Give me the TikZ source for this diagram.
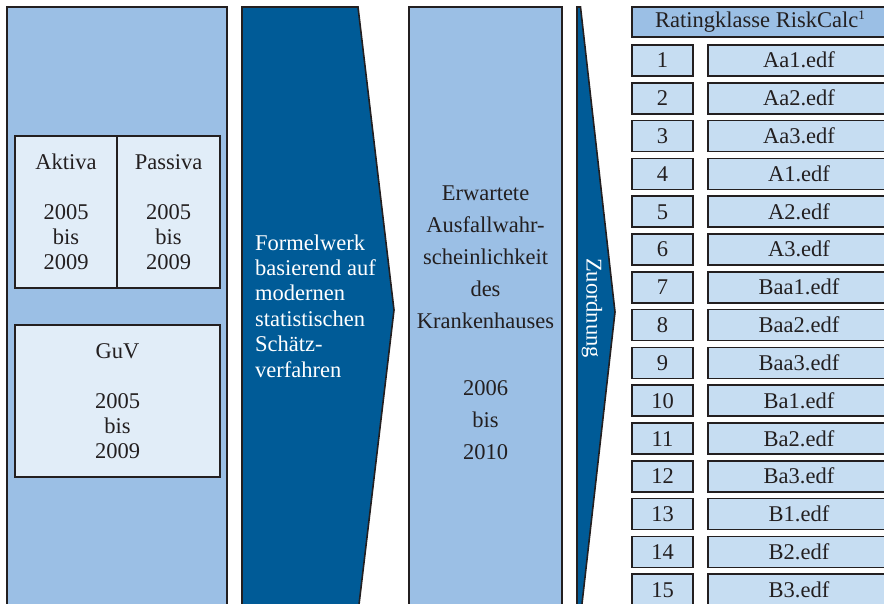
\documentclass[tikz,border=0pt]{standalone}
\usepackage{fontspec}
\setmainfont{Liberation Serif}
\definecolor{panel}{HTML}{9BBFE5}
\definecolor{inner}{HTML}{E1EDF8}
\definecolor{dark}{HTML}{005B97}
\definecolor{rowc}{HTML}{C6DDF2}
\definecolor{ink}{HTML}{231F20}
\begin{document}
\begin{tikzpicture}[x=1pt,y=-1pt,
  frame/.style={draw=ink, line width=1.6pt, line join=miter},
  txt/.style={font=\fontsize{22.5}{25}\selectfont, text=ink, align=center, inner sep=0pt},
  wtxt/.style={font=\fontsize{22.5}{25.4}\selectfont, text=white, align=left, inner sep=0pt},
  ptxt/.style={font=\fontsize{22.5}{32}\selectfont, text=ink, align=center, inner sep=0pt}]
\useasboundingbox (0,0) rectangle (884,604);
\clip (0,0) rectangle (884,604);
% left panel
\path[frame, fill=panel] (7,7) rectangle (227,640);
\path[frame, fill=inner] (15,136) rectangle (220,288);
\draw[frame] (117,136) -- (117,288);
\path[frame, fill=inner] (15,325) rectangle (220,477);
\node[txt] (aktiva) at (66,212) {Aktiva\\[25pt]2005\\bis\\2009};
\node[txt] (passiva) at (168.5,212) {Passiva\\[25pt]2005\\bis\\2009};
\node[txt] (guv) at (117.5,401.5) {GuV\\[25pt]2005\\bis\\2009};
% first arrow
\path[frame, fill=dark] (242,7) -- (358,7) -- (394,310) -- (358,613) -- (242,613) -- cycle;
\node[wtxt, anchor=west] (formel) at (255,306) {Formelwerk\\basierend auf\\modernen\\statistischen\\Schätz-\\verfahren};
% second panel
\path[frame, fill=panel] (409,7) rectangle (562,640);
\node[ptxt] (pd) at (485.5,322.5) {Erwartete\\Ausfallwahr-\\scheinlichkeit\\des\\Krankenhauses\\[35pt]2006\\bis\\2010};
% second arrow
\path[frame, fill=dark] (577,7) -- (580.5,7) -- (615,312) -- (580.5,617) -- (577,617) -- cycle;
\node[font=\fontsize{22.5}{25}\selectfont, text=white, inner sep=0pt, rotate=-90] (zuord) at (592,308) {Zuordnung};
% table
\path[frame, fill=panel] (632,7) rectangle (889,37);
\node[txt, anchor=base] (head) at (760,28) {Ratingklasse RiskCalc\raisebox{8pt}{\fontsize{13}{13}\selectfont 1}};
\foreach \i/\nm in {1/Aa1,2/Aa2,3/Aa3,4/A1,5/A2,6/A3,7/Baa1,8/Baa2,9/Baa3,10/Ba1,11/Ba2,12/Ba3,13/B1,14/B2,15/B3}{
  \pgfmathsetmacro{\t}{45+(\i-1)*37.8}
  \path[frame, fill=rowc] (632,\t) rectangle (693,\t+31);
  \path[frame, fill=rowc] (708,\t) rectangle (889,\t+31);
  \node[txt, anchor=base] (num\i) at (662.5,\t+23) {\i};
  \node[txt, anchor=base] (cls\i) at (799,\t+23) {\nm.edf};
}
\end{tikzpicture}
\end{document}
